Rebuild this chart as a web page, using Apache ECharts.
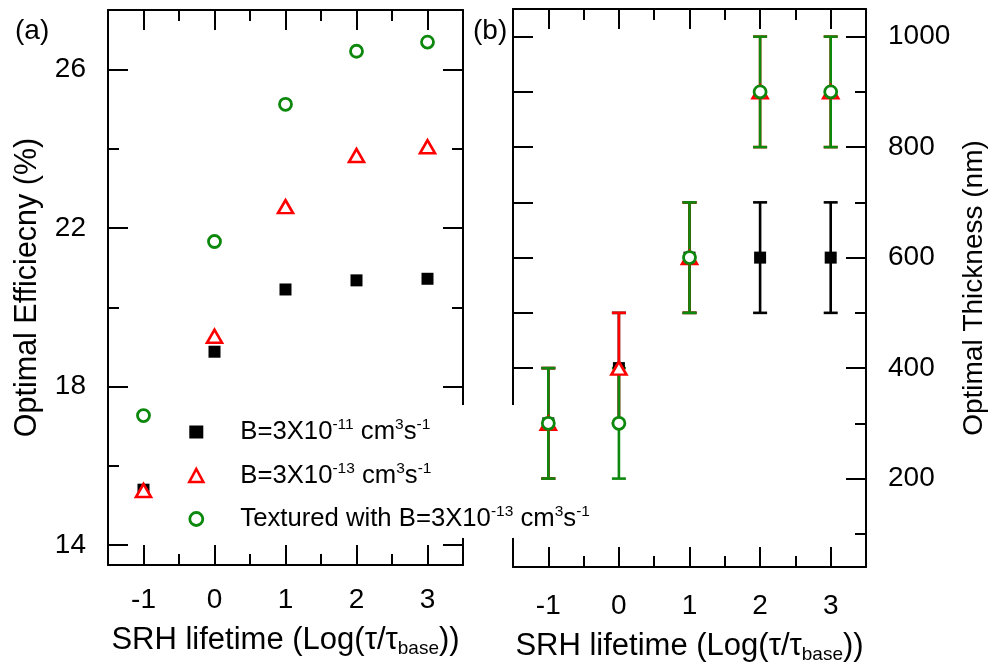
<!DOCTYPE html>
<html>
<head>
<meta charset="utf-8">
<script src="https://cdn.jsdelivr.net/npm/echarts@6/dist/echarts.min.js"></script>
<style>
html,body{margin:0;padding:0;background:#fff;}
#chart{width:995px;height:669px;}
</style>
</head>
<body>
<div id="chart"></div>
<script>
// ---- data ----
const lifetimeLog = [-1, 0, 1, 2, 3];
const effB11 = [15.40, 18.88, 20.45, 20.68, 20.72];
const effB13 = [15.38, 19.27, 22.54, 23.83, 24.05];
const effTextured = [17.27, 21.66, 25.12, 26.46, 26.69];
const thickB11 = [300, 400, 600, 600, 600];
const thickB13 = [300, 400, 600, 900, 900];
const thickTextured = [300, 300, 600, 900, 900];
const thickErrB11 = [100, 100, 100, 100, 100];
const thickErrB13 = [100, 100, 100, 100, 100];
const thickErrTextured = [100, 100, 100, 100, 100];
const xTicks = [-1, 0, 1, 2, 3];
const xMinorTicks = [-0.5, 0.5, 1.5, 2.5];
const effTicks = [14, 18, 22, 26];
const effMinorTicks = [16, 20, 24];
const thickLabels = [200, 400, 600, 800, 1000];
const thickMinorRight = [100, 300, 500, 700, 900];
const thickAllTicks = [100, 200, 300, 400, 500, 600, 700, 800, 900, 1000];

const FONT = '"Liberation Sans", Arial, sans-serif';
const BLACK = '#000000', RED = '#ff0000', GREEN = '#0c880c';

const chart = echarts.init(document.getElementById('chart'), null, {renderer: 'canvas'});

function pairs(xs, ys) { return xs.map((x, i) => [x, ys[i]]); }
function errData(xs, ys, es) { return xs.map((x, i) => [x, ys[i], ys[i] - es[i], ys[i] + es[i]]); }

const LINE = {show: true, onZero: false, lineStyle: {color: BLACK, width: 2}};
function frameAxis(gridIndex, pos, min, max, ticks, len, opts) {
  return Object.assign({
    type: 'value', gridIndex: gridIndex, position: pos, min: min, max: max,
    axisLine: {show: false, onZero: false},
    axisTick: {show: true, inside: true, length: len, customValues: ticks, lineStyle: {color: BLACK, width: 2}},
    axisLabel: {show: false},
    splitLine: {show: false},
    silent: true
  }, opts || {});
}
function lbl(values, margin) {
  return {show: true, customValues: values, margin: margin, fontFamily: FONT, fontSize: 28, color: BLACK,
          formatter: function (v) { return String(v); }};
}

const xNameRich = {
  t: {fontFamily: FONT, fontSize: 31, color: BLACK, lineHeight: 36, verticalAlign: 'middle'},
  sub: {fontFamily: FONT, fontSize: 19, color: BLACK, lineHeight: 19, verticalAlign: 'bottom'}
};
const xNameText = '{t|SRH lifetime (Log(τ/τ}{sub|base}{t|))}';

const xAxes = [];
const yAxes = [];
// Panel (a) grid 0
xAxes.push(frameAxis(0, 'bottom', -1.5, 3.5, xTicks, 20, {
  axisLine: LINE, axisLabel: lbl(xTicks, 21),
  name: xNameText, nameLocation: 'middle', nameGap: 57,
  nameTextStyle: {rich: xNameRich}
}));
xAxes.push(frameAxis(0, 'bottom', -1.5, 3.5, xMinorTicks, 11));
xAxes.push(frameAxis(0, 'top', -1.5, 3.5, xTicks, 20, {axisLine: LINE}));
xAxes.push(frameAxis(0, 'top', -1.5, 3.5, xMinorTicks, 11));
yAxes.push(frameAxis(0, 'left', 13.5, 27.5, effTicks, 20, {
  axisLine: LINE, axisLabel: lbl(effTicks, 22),
  name: 'Optimal Efficiecny (%)', nameLocation: 'middle', nameGap: 65, nameRotate: 90,
  nameTextStyle: {fontFamily: FONT, fontSize: 30.5, color: BLACK}
}));
yAxes.push(frameAxis(0, 'left', 13.5, 27.5, effMinorTicks, 11));
yAxes.push(frameAxis(0, 'right', 13.5, 27.5, effTicks, 20, {axisLine: LINE}));
yAxes.push(frameAxis(0, 'right', 13.5, 27.5, effMinorTicks, 11));
// Panel (b) grid 1
xAxes.push(frameAxis(1, 'bottom', -1.5, 3.5, xTicks, 20, {
  axisLine: LINE, axisLabel: lbl(xTicks, 25),
  name: xNameText, nameLocation: 'middle', nameGap: 61,
  nameTextStyle: {rich: xNameRich}
}));
xAxes.push(frameAxis(1, 'bottom', -1.5, 3.5, xMinorTicks, 11));
xAxes.push(frameAxis(1, 'top', -1.5, 3.5, xTicks, 20, {axisLine: LINE}));
xAxes.push(frameAxis(1, 'top', -1.5, 3.5, xMinorTicks, 11));
yAxes.push(frameAxis(1, 'right', 40, 1050, thickLabels, 20, {
  axisLine: LINE, axisLabel: lbl(thickLabels, 22),
  name: 'Optimal Thickness (nm)', nameLocation: 'middle', nameGap: 94, nameRotate: 90,
  nameTextStyle: {fontFamily: FONT, fontSize: 28, color: BLACK}
}));
yAxes.push(frameAxis(1, 'right', 40, 1050, thickMinorRight, 11));
yAxes.push(frameAxis(1, 'left', 40, 1050, thickAllTicks, 20, {axisLine: LINE}));

function errRender(color) {
  return function (params, api) {
    const x = api.value(0), lo = api.value(2), hi = api.value(3);
    const p1 = api.coord([x, lo]);
    const p2 = api.coord([x, hi]);
    const hw = 7;
    const st = {stroke: color, lineWidth: 2.6};
    return {
      type: 'group',
      children: [
        {type: 'line', shape: {x1: p1[0], y1: p1[1], x2: p2[0], y2: p2[1]}, style: st},
        {type: 'line', shape: {x1: p1[0] - hw, y1: p1[1], x2: p1[0] + hw, y2: p1[1]}, style: st},
        {type: 'line', shape: {x1: p2[0] - hw, y1: p2[1], x2: p2[0] + hw, y2: p2[1]}, style: st}
      ]
    };
  };
}

const sqStyle = {color: BLACK, opacity: 1};
const triStyle = {color: '#ffffff', borderColor: RED, borderWidth: 2.6, opacity: 1};
const cirStyle = {color: '#ffffff', borderColor: GREEN, borderWidth: 2.8, opacity: 1};

const series = [
  {type: 'scatter', name: 'B11', xAxisIndex: 0, yAxisIndex: 0, symbol: 'rect', symbolSize: 12, itemStyle: sqStyle, data: pairs(lifetimeLog, effB11), silent: true},
  {type: 'scatter', name: 'B13', xAxisIndex: 0, yAxisIndex: 0, symbol: 'triangle', symbolSize: [15, 13], itemStyle: triStyle, data: pairs(lifetimeLog, effB13), silent: true},
  {type: 'scatter', name: 'Textured', xAxisIndex: 0, yAxisIndex: 0, symbol: 'circle', symbolSize: 12, itemStyle: cirStyle, data: pairs(lifetimeLog, effTextured), silent: true},

  {type: 'custom', name: 'tB11e', xAxisIndex: 4, yAxisIndex: 4, renderItem: errRender(BLACK), encode: {x: 0, y: [1, 2, 3]}, data: errData(lifetimeLog, thickB11, thickErrB11), silent: true},
  {type: 'scatter', name: 'tB11', xAxisIndex: 4, yAxisIndex: 4, symbol: 'rect', symbolSize: 12, itemStyle: sqStyle, data: pairs(lifetimeLog, thickB11), silent: true},
  {type: 'custom', name: 'tB13e', xAxisIndex: 4, yAxisIndex: 4, renderItem: errRender(RED), encode: {x: 0, y: [1, 2, 3]}, data: errData(lifetimeLog, thickB13, thickErrB13), silent: true},
  {type: 'scatter', name: 'tB13', xAxisIndex: 4, yAxisIndex: 4, symbol: 'triangle', symbolSize: [15, 13], itemStyle: triStyle, data: pairs(lifetimeLog, thickB13), silent: true},
  {type: 'custom', name: 'tTexe', xAxisIndex: 4, yAxisIndex: 4, renderItem: errRender(GREEN), encode: {x: 0, y: [1, 2, 3]}, data: errData(lifetimeLog, thickTextured, thickErrTextured), silent: true},
  {type: 'scatter', name: 'tTex', xAxisIndex: 4, yAxisIndex: 4, symbol: 'circle', symbolSize: 12, itemStyle: cirStyle, data: pairs(lifetimeLog, thickTextured), silent: true}
];

const legendText = {
  B11: '{sp|}{t|B=3X10}{sup|-11}{t| cm}{sup|3}{t|s}{sup|-1}',
  B13: '{sp|}{t|B=3X10}{sup|-13}{t| cm}{sup|3}{t|s}{sup|-1}',
  Textured: '{sp|}{t|Textured with B=3X10}{sup|-13}{t| cm}{sup|3}{t|s}{sup|-1}'
};

const option = {
  backgroundColor: '#ffffff',
  animation: false,
  title: [
    {text: '(a)', left: 10, top: 12, textStyle: {fontFamily: FONT, fontSize: 28, fontWeight: 'normal', color: BLACK}},
    {text: '(b)', left: 468, top: 12, textStyle: {fontFamily: FONT, fontSize: 28, fontWeight: 'normal', color: BLACK}}
  ],
  grid: [
    {left: 108, top: 10, width: 355, height: 555},
    {left: 513, top: 9, width: 353, height: 560}
  ],
  xAxis: xAxes,
  yAxis: yAxes,
  legend: {
    orient: 'vertical',
    left: 188, top: 405,
    z: 1,
    backgroundColor: '#ffffff',
    padding: [12, 6, 6, 0],
    itemWidth: 14, itemHeight: 13,
    itemGap: 15.5,
    selectedMode: false,
    data: [
      {name: 'B11', icon: 'rect', itemStyle: {color: BLACK, borderWidth: 0, opacity: 1}},
      {name: 'B13', icon: 'triangle', itemStyle: {color: '#ffffff', borderColor: RED, borderWidth: 2.6, opacity: 1}},
      {name: 'Textured', icon: 'circle', itemStyle: {color: '#ffffff', borderColor: GREEN, borderWidth: 2.8, opacity: 1}}
    ],
    formatter: function (name) { return legendText[name]; },
    textStyle: {
      fontFamily: FONT, color: BLACK,
      rich: {
        sp: {width: 32},
        t: {fontFamily: FONT, fontSize: 25.7, color: BLACK, lineHeight: 30, verticalAlign: 'middle'},
        sup: {fontFamily: FONT, fontSize: 15.5, color: BLACK, lineHeight: 14, verticalAlign: 'top'}
      }
    }
  },
  series: series
};
chart.setOption(option);
</script>
</body>
</html>
